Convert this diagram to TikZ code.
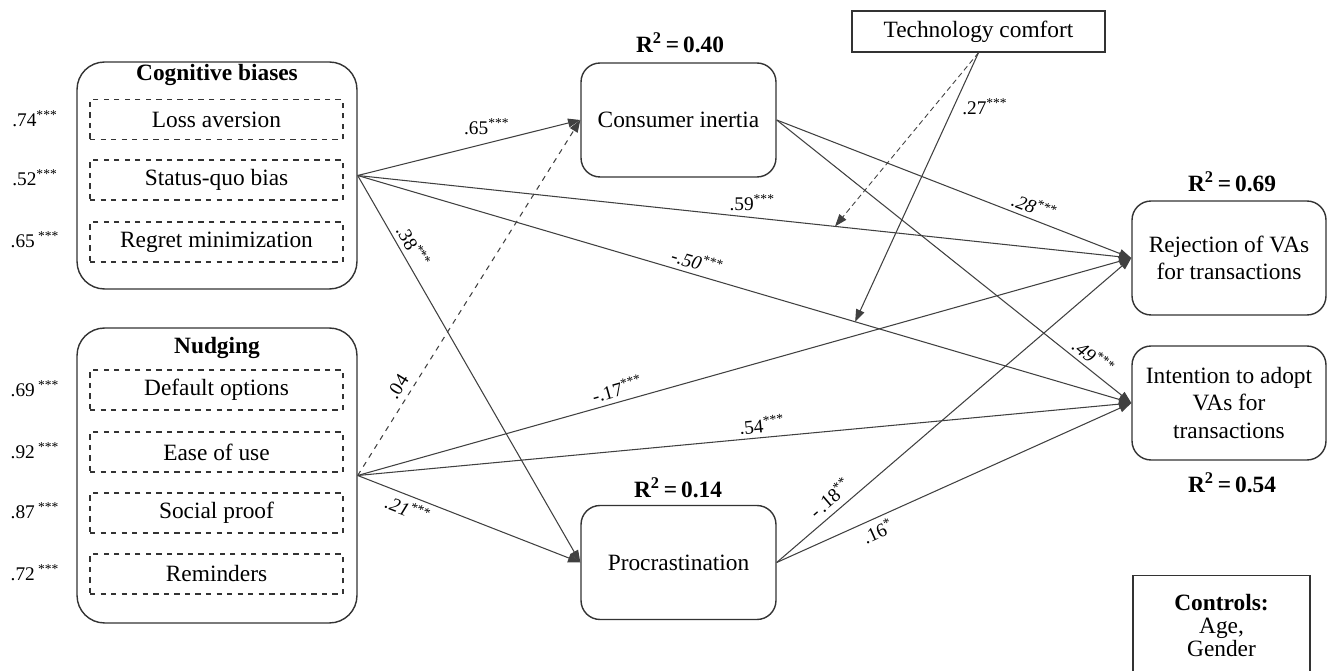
\documentclass[tikz,border=0pt]{standalone}
\usepackage{fontspec}
\setmainfont{Liberation Serif}
\usetikzlibrary{arrows.meta}

\begin{document}
\begin{tikzpicture}[
  x=0.02cm, y=-0.02cm,
  font=\fontsize{13.3}{15.5}\selectfont,
  group/.style={draw=black!80, line width=0.8pt, rounded corners=0.55cm,
                minimum width=5.6cm},
  item/.style={draw=black!80, dashed, line width=0.6pt,
               minimum width=5.06cm, minimum height=0.8cm},
  construct/.style={draw=black!80, line width=0.8pt, rounded corners=0.38cm,
                    align=center, minimum width=3.9cm, minimum height=2.28cm},
  link/.style={draw=black!75, line width=0.6pt, -{Triangle[length=7pt, width=5pt]}},
  coeff/.style={font=\fontsize{11}{13}\selectfont, inner sep=1.5pt},
  coeffit/.style={coeff, font=\fontsize{11}{13}\selectfont\itshape},
  rsq/.style={font=\fontsize{13.3}{15.5}\selectfont\bfseries}
]

% page in pixel units of the reference (y grows downwards)
\useasboundingbox (0,0) rectangle (1328,671);

% ---- exogenous constructs ------------------------------------------
\node[group, minimum height=4.54cm] (cb) at (217,175.5) {};
\node[font=\fontsize{13.3}{15.5}\selectfont\bfseries] (cbtitle) at (217,75) {Cognitive biases};
\node[item] (loss)   at (216.5,119.5) {Loss aversion};
\node[item] (status) at (216.5,180)   {Status-quo bias};
\node[item] (regret) at (216.5,242)   {Regret minimization};

\node[group, minimum height=5.9cm] (nudge) at (217,475.5) {};
\node[font=\fontsize{13.3}{15.5}\selectfont\bfseries] (nudgetitle) at (217,348) {Nudging};
\node[item] (default) at (216.5,390) {Default options};
\node[item] (ease)    at (216.5,452) {Ease of use};
\node[item] (social)  at (216.5,513) {Social proof};
\node[item] (remind)  at (216.5,574) {Reminders};

% ---- loadings ------------------------------------------------------
\node[coeff] (l1) at (35,119)  {.74\textsuperscript{***}};
\node[coeff] (l2) at (35,178)  {.52\textsuperscript{***}};
\node[coeff] (l3) at (35,240)  {.65\,\textsuperscript{***}};
\node[coeff] (l4) at (35,389)  {.69\,\textsuperscript{***}};
\node[coeff] (l5) at (35,451)  {.92\,\textsuperscript{***}};
\node[coeff] (l6) at (35,511)  {.87\,\textsuperscript{***}};
\node[coeff] (l7) at (35,573)  {.72\,\textsuperscript{***}};

% ---- mediators and outcomes ----------------------------------------
\node[construct] (inertia) at (678.5,120)   {Consumer inertia};
\node[rsq]       (r2in)    at (680,43)      {R\textsuperscript{2}\,=\,0.40};
\node[construct] (procr)   at (678.5,562.5) {Procrastination};
\node[rsq]       (r2pr)    at (678,488)     {R\textsuperscript{2}\,=\,0.14};

\node[construct, minimum width=3.88cm] (reject) at (1229,258) {Rejection of VAs\\for transactions};
\node[rsq]       (r2re)    at (1232,182)    {R\textsuperscript{2}\,=\,0.69};
\node[construct, minimum width=3.88cm] (intent) at (1229,403) {Intention to adopt\\VAs for\\transactions};
\node[rsq]       (r2it)    at (1232,483)    {R\textsuperscript{2}\,=\,0.54};

\node[draw=black!80, line width=0.8pt, minimum width=5.06cm, minimum height=0.82cm]
  (tech) at (978.5,31.5) {Technology comfort};

\node[draw=black!80, line width=0.8pt, anchor=north, align=center,
      minimum width=3.54cm, minimum height=2.0cm,
      font=\fontsize{13.3}{13}\selectfont]
  (controls) at (1221.5,575) {\textbf{Controls:}\\Age,\\Gender};

% ---- paths from cognitive biases -----------------------------------
\draw[link] (cb.east) -- node[coeff, pos=0.58, above=3pt] {.65\textsuperscript{***}} (inertia.west);
\draw[link] (cb.east) -- node[coeff, pos=0.51, above=2pt] {.59\textsuperscript{***}}
  coordinate[pos=0.617] (on59) (reject.west);
\draw[link] (cb.east) -- node[coeffit, pos=0.434, above=1pt, sloped] {-.50\textsuperscript{***}}
  coordinate[pos=0.643] (on50) (intent.west);
\draw[link] (cb.east) -- node[coeff, pos=0.2, above=1pt, sloped] {.38\textsuperscript{***}} (procr.west);

% ---- paths from nudging --------------------------------------------
\draw[link, dashed] (nudge.east) -- node[coeff, pos=0.23, above=2pt, sloped] {.04} (inertia.west);
\draw[link] (nudge.east) -- node[coeff, pos=0.34, above=1pt, sloped] {-.17\textsuperscript{***}} (reject.west);
\draw[link] (nudge.east) -- node[coeff, pos=0.524, above=1pt, sloped] {.54\textsuperscript{***}} (intent.west);
\draw[link] (nudge.east) -- node[coeffit, pos=0.246, below=1pt, sloped] {.21\textsuperscript{***}} (procr.west);

% ---- paths from the mediators --------------------------------------
\draw[link] (inertia.east) -- node[coeffit, pos=0.713, above=1pt, sloped] {.28\textsuperscript{***}} (reject.west);
\draw[link] (inertia.east) -- node[coeffit, pos=0.87, above=1pt, sloped] {.49\textsuperscript{***}} (intent.west);
\draw[link] (procr.east) -- node[coeff, pos=0.176, above=2pt, sloped] {-\,.18\textsuperscript{**}} (reject.west);
\draw[link] (procr.east) -- node[coeff, pos=0.27, below=1pt, sloped] {.16\textsuperscript{*}} (intent.west);

% ---- moderation ----------------------------------------------------
\draw[link, densely dashed, line width=0.5pt] (tech.south) -- (on59);
\draw[link] (tech.south) -- node[coeff, pos=0.2, right=3pt] {.27\textsuperscript{***}} (on50);

\end{tikzpicture}
\end{document}
